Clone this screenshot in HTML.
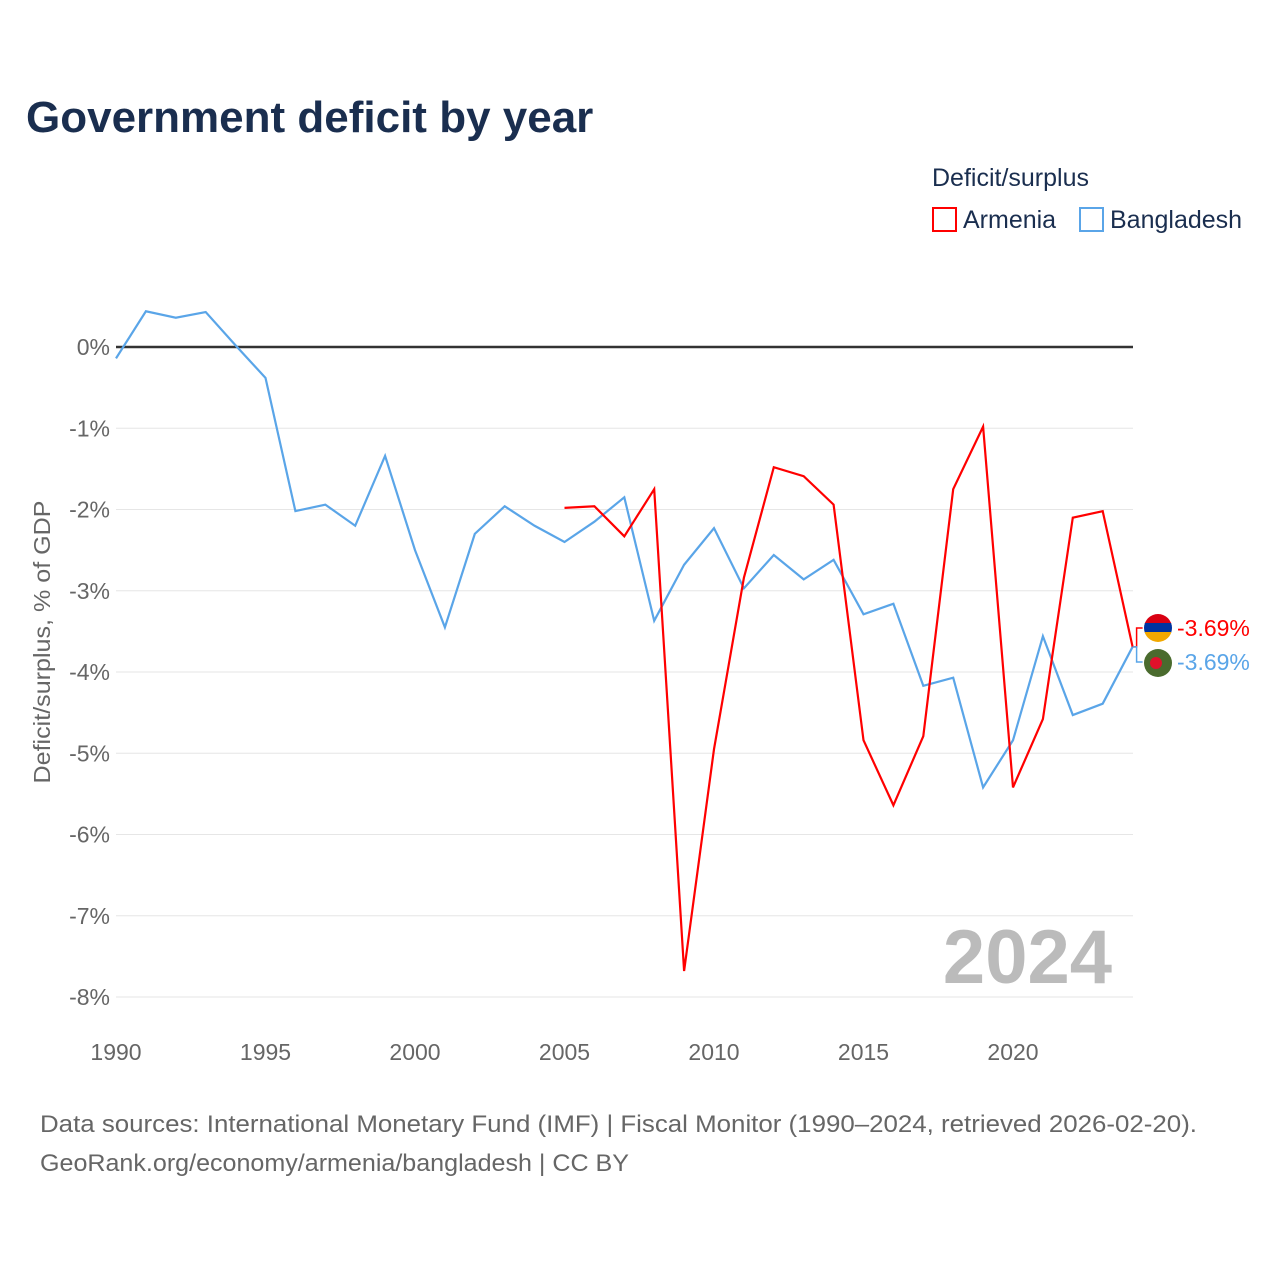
<!DOCTYPE html>
<html><head><meta charset="utf-8"><style>
body{margin:0;background:#fff;font-family:"Liberation Sans",sans-serif}
</style></head><body>
<svg width="1280" height="1280" xmlns="http://www.w3.org/2000/svg" id="chart" font-family="Liberation Sans, sans-serif">
<text x="26" y="132" font-size="44" font-weight="bold" fill="#1a2e4f">Government deficit by year</text>
<g>
<text x="932" y="186" font-size="25" fill="#1a2e4f">Deficit/surplus</text>
<g><rect x="933" y="208" width="23" height="23" fill="none" stroke="#f00" stroke-width="2"/><text x="963" y="228" font-size="25" fill="#1a2e4f">Armenia</text></g>
<g><rect x="1080" y="208" width="23" height="23" fill="none" stroke="#5aa5e8" stroke-width="2"/><text x="1110" y="228" font-size="25" fill="#1a2e4f">Bangladesh</text></g>
</g>
<g id="grid"></g>
<g id="yt"></g>
<g id="xt"></g>
<text transform="translate(50,642) rotate(-90)" text-anchor="middle" font-size="23" fill="#666" textLength="283" lengthAdjust="spacingAndGlyphs">Deficit/surplus, % of GDP</text>
<text x="1112" y="983" text-anchor="end" font-size="76" font-weight="bold" fill="#bbb">2024</text>
<g id="series"></g>
<g id="endlabels"></g>
<text x="40" y="1132" font-size="24" fill="#666" textLength="1157" lengthAdjust="spacingAndGlyphs">Data sources: International Monetary Fund (IMF) | Fiscal Monitor (1990–2024, retrieved 2026-02-20).</text>
<text x="40" y="1171" font-size="24" fill="#666" textLength="589" lengthAdjust="spacingAndGlyphs">GeoRank.org/economy/armenia/bangladesh | CC BY</text>
</svg>
<script>
const yTicks=[0,-1,-2,-3,-4,-5,-6,-7,-8];
const xTicks=[1990,1995,2000,2005,2010,2015,2020];
const bdYears=[1990,1991,1992,1993,1994,1995,1996,1997,1998,1999,2000,2001,2002,2003,2004,2005,2006,2007,2008,2009,2010,2011,2012,2013,2014,2015,2016,2017,2018,2019,2020,2021,2022,2023,2024];
const bdValues=[-0.14,0.44,0.36,0.43,0.02,-0.38,-2.02,-1.94,-2.2,-1.34,-2.5,-3.45,-2.3,-1.96,-2.2,-2.4,-2.15,-1.85,-3.37,-2.68,-2.23,-2.97,-2.56,-2.86,-2.62,-3.29,-3.16,-4.17,-4.07,-5.42,-4.84,-3.56,-4.53,-4.39,-3.69];
const amYears=[2005,2006,2007,2008,2009,2010,2011,2012,2013,2014,2015,2016,2017,2018,2019,2020,2021,2022,2023,2024];
const amValues=[-1.98,-1.96,-2.33,-1.75,-7.68,-4.95,-2.84,-1.48,-1.59,-1.94,-4.84,-5.64,-4.79,-1.75,-0.98,-5.42,-4.58,-2.1,-2.02,-3.69];
const X=y=>116+(y-1990)*(1132.6-116)/34;
const Y=v=>347-v*81.25;
const NS="http://www.w3.org/2000/svg";
function mk(t,a,p){const e=document.createElementNS(NS,t);for(const k in a)e.setAttribute(k,a[k]);p.appendChild(e);return e;}
const grid=document.getElementById('grid'),yt=document.getElementById('yt'),xt=document.getElementById('xt');
yTicks.forEach(v=>{
 const l=mk('line',{x1:116,x2:1133,y1:Y(v),y2:Y(v),stroke:v===0?'#333':'#e6e6e6','stroke-width':v===0?2.5:1},grid);
 
 
 const t=mk('text',{x:110,y:Y(v)+8,'text-anchor':'end','font-size':23,fill:'#666'},yt);t.textContent=v+'%';
 
 
});
xTicks.forEach(y=>{
 const t=mk('text',{x:X(y),y:1060,'text-anchor':'middle','font-size':23,fill:'#666'},xt);t.textContent=y;
 
 
});
const s=document.getElementById('series');
function line(ys,vs,c,n){const p=mk('polyline',{points:ys.map((y,i)=>X(y)+','+Y(vs[i])).join(' '),fill:'none',stroke:c,'stroke-width':2.2},s);
 
 }
line(bdYears,bdValues,'#5aa5e8','line-bangladesh');
line(amYears,amValues,'#f00','line-armenia');
const el=document.getElementById('endlabels');
const ex=X(2024);
function end(v,ly,c,n){
 mk('polyline',{points:`${ex},${Y(v)} ${ex+4},${Y(v)} ${ex+4},${ly} ${ex+10},${ly}`,fill:'none',stroke:c,'stroke-width':1.5},el);
 const t=mk('text',{x:1177,y:ly+8,'font-size':23,fill:c},el);t.textContent=v.toFixed(2)+'%';
 
 
}
end(amValues[amValues.length-1],628,'#f00','end-label-armenia');
end(bdValues[bdValues.length-1],662,'#5aa5e8','end-label-bangladesh');
el.insertAdjacentHTML('beforeend',`<defs><clipPath id="c1"><circle cx="1158" cy="628" r="14"/></clipPath></defs>
<g clip-path="url(#c1)"><rect x="1144" y="614" width="28" height="10" fill="#d90012"/><rect x="1144" y="623" width="28" height="10" fill="#0033a0"/><rect x="1144" y="632" width="28" height="10" fill="#f2a800"/></g>
<g><circle cx="1158" cy="663" r="14" fill="#4a6b2e"/><circle cx="1156" cy="663" r="6" fill="#e0112b"/></g>`);
</script>
</body></html>
